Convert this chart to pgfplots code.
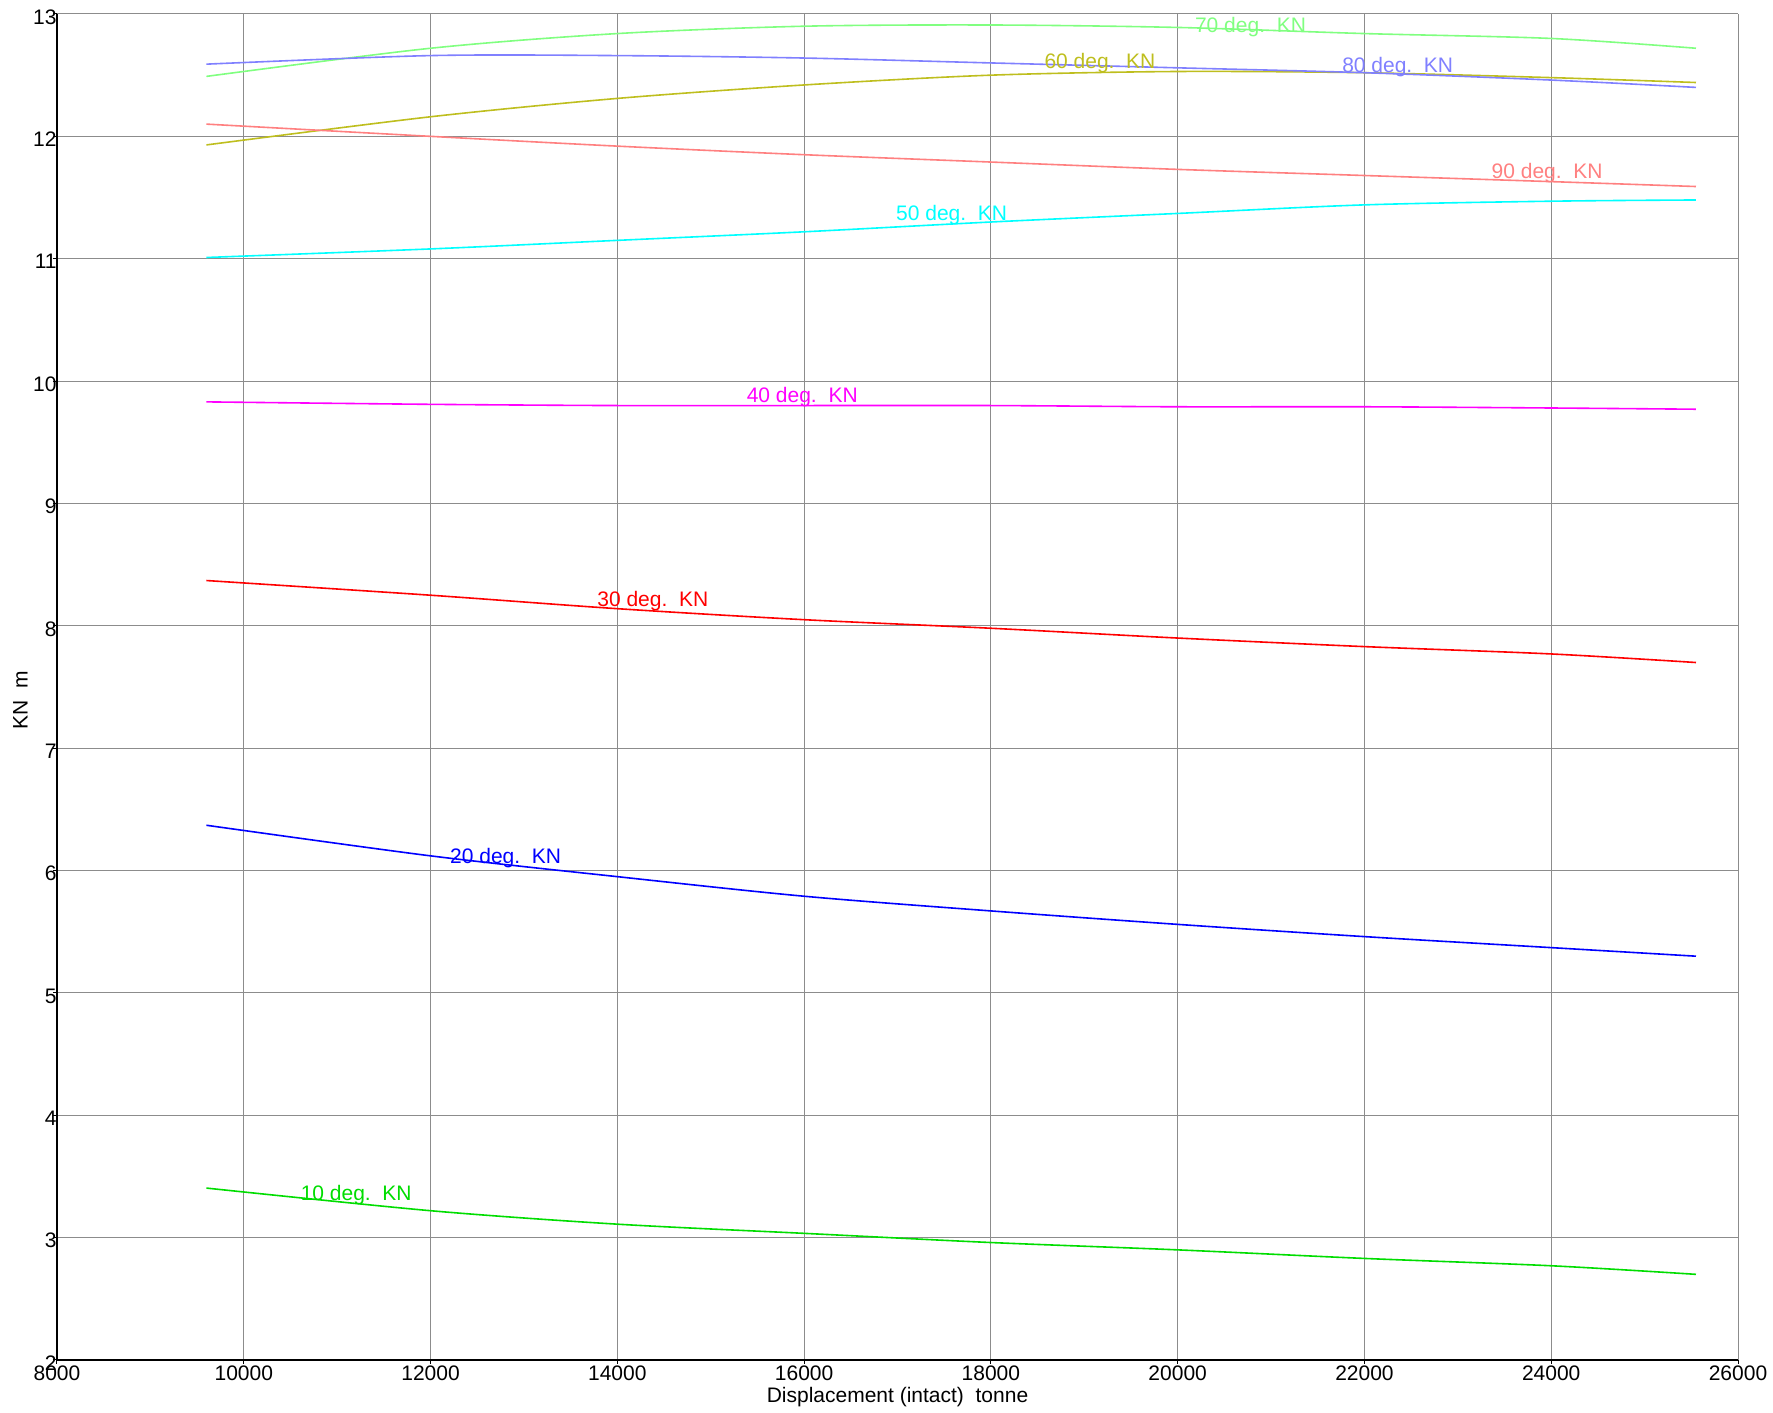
\documentclass[border=0pt]{standalone}
\usepackage{fontspec}
\setmainfont{Liberation Sans}
\usepackage{pgfplots}
\pgfplotsset{compat=1.18}
\definecolor{c10}{RGB}{0,221,0}
\definecolor{c20}{RGB}{0,0,255}
\definecolor{c30}{RGB}{255,0,0}
\definecolor{c40}{RGB}{255,0,255}
\definecolor{c50}{RGB}{0,255,255}
\definecolor{c60}{RGB}{190,190,30}
\definecolor{c70}{RGB}{128,255,128}
\definecolor{c80}{RGB}{128,128,255}
\definecolor{c90}{RGB}{255,128,128}
\definecolor{gridc}{RGB}{140,140,140}
\begin{document}
\fontsize{10.5pt}{12.6pt}\selectfont
\begin{tikzpicture}
\begin{axis}[
  scale only axis, width=840.5pt, height=673pt,
  xmin=8000, xmax=26000, ymin=2, ymax=13,
  xtick={8000,10000,...,26000}, ytick={2,3,...,13},
  scaled ticks=false,
  axis lines*=left,
  axis line style={black, line width=1pt},
  grid=major, grid style={gridc, line width=0.5pt},
  tick align=outside, major tick length=2pt, tick style={black, line width=0.5pt},
  /pgf/number format/assume math mode=true,
  /pgf/number format/1000 sep={},
  xticklabel style={anchor=north, inner sep=0pt, yshift=-0.5pt, /pgf/number format/fixed, /pgf/number format/precision=0},
  yticklabel style={anchor=east, inner sep=0pt, yshift=-1.5pt, xshift=2pt},
  xlabel={Displacement (intact)\ \ tonne},
  ylabel={KN\ \ m},
  xlabel style={at={(axis description cs:0.5,0)}, anchor=north, inner sep=0pt, yshift=-13.5pt},
  ylabel style={at={(axis description cs:0,0.49)}, anchor=south, inner sep=0pt, yshift=14.5pt},
  every axis plot/.append style={line width=0.8pt, smooth, no markers},
]
\addplot[c10] coordinates {(9600,3.405) (12000,3.22) (14000,3.11) (16000,3.035) (18000,2.96) (20000,2.90) (22000,2.83) (24000,2.77) (25550,2.70)};
\addplot[c20] coordinates {(9600,6.37) (12000,6.12) (14000,5.95) (16000,5.79) (18000,5.67) (20000,5.56) (22000,5.46) (24000,5.37) (25550,5.30)};
\addplot[c30] coordinates {(9600,8.37) (12000,8.25) (14000,8.14) (16000,8.05) (18000,7.98) (20000,7.90) (22000,7.83) (24000,7.77) (25550,7.70)};
\addplot[c40] coordinates {(9600,9.83) (12000,9.81) (14000,9.80) (16000,9.80) (18000,9.80) (20000,9.79) (22000,9.79) (24000,9.78) (25550,9.77)};
\addplot[c50] coordinates {(9600,11.01) (12000,11.08) (14000,11.15) (16000,11.22) (18000,11.30) (20000,11.37) (22000,11.44) (24000,11.47) (25550,11.48)};
\addplot[c60] coordinates {(9600,11.93) (12000,12.16) (14000,12.31) (16000,12.42) (18000,12.50) (20000,12.53) (22000,12.52) (24000,12.48) (25550,12.44)};
\addplot[c70] coordinates {(9600,12.49) (12000,12.72) (14000,12.84) (16000,12.90) (18000,12.91) (20000,12.89) (22000,12.84) (24000,12.80) (25550,12.72)};
\addplot[c80] coordinates {(9600,12.59) (12000,12.66) (14000,12.66) (16000,12.64) (18000,12.60) (20000,12.56) (22000,12.52) (24000,12.46) (25550,12.40)};
\addplot[c90] coordinates {(9600,12.10) (12000,12.00) (14000,11.92) (16000,11.85) (18000,11.79) (20000,11.73) (22000,11.68) (24000,11.63) (25550,11.59)};
\node[anchor=west, inner sep=0pt, text=c10] at (axis cs:10606,3.35) {10 deg.\ \ KN};
\node[anchor=west, inner sep=0pt, text=c20] at (axis cs:12206,6.10) {20 deg.\ \ KN};
\node[anchor=west, inner sep=0pt, text=c30] at (axis cs:13782,8.20) {30 deg.\ \ KN};
\node[anchor=west, inner sep=0pt, text=c40] at (axis cs:15382,9.87) {40 deg.\ \ KN};
\node[anchor=west, inner sep=0pt, text=c50] at (axis cs:16982,11.36) {50 deg.\ \ KN};
\node[anchor=west, inner sep=0pt, text=c60] at (axis cs:18570,12.60) {60 deg.\ \ KN};
\node[anchor=west, inner sep=0pt, text=c70] at (axis cs:20182,12.895) {70 deg.\ \ KN};
\node[anchor=west, inner sep=0pt, text=c80] at (axis cs:21758,12.57) {80 deg.\ \ KN};
\node[anchor=west, inner sep=0pt, text=c90] at (axis cs:23358,11.70) {90 deg.\ \ KN};
\end{axis}
\pgfresetboundingbox
\path[use as bounding box] ([xshift=-28.5pt,yshift=-26.5pt]current axis.south west) rectangle ([xshift=17.5pt,yshift=7pt]current axis.north east);
\end{tikzpicture}
\end{document}
